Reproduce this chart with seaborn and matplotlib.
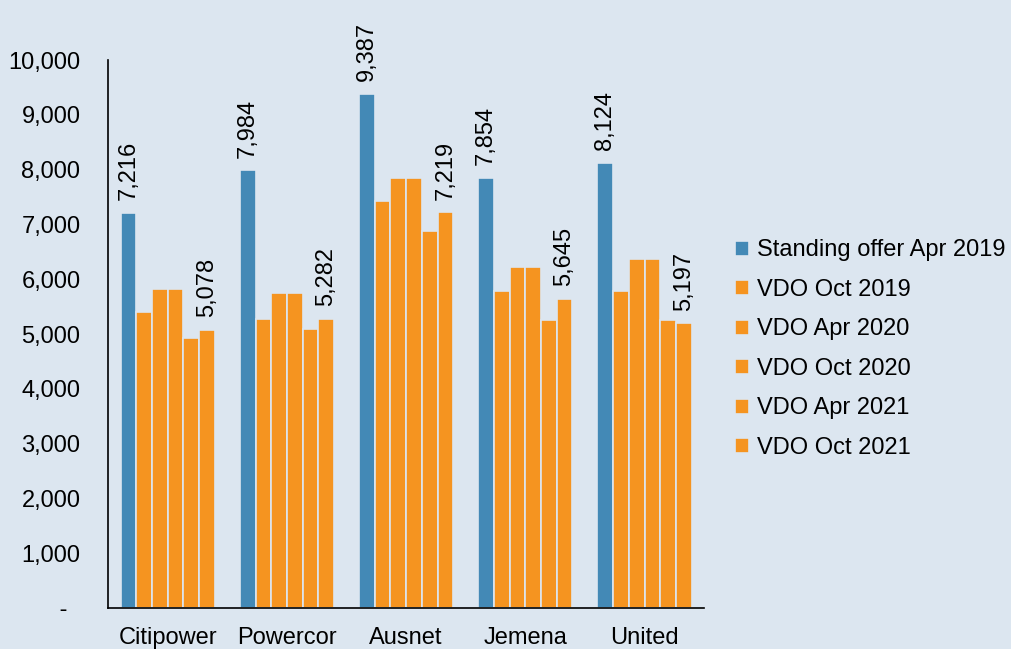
import pandas as pd
import matplotlib
matplotlib.use("Agg")
import matplotlib.pyplot as plt
import seaborn as sns
from matplotlib.ticker import FuncFormatter, FixedLocator

# chart data
distributors = ["Citipower", "Powercor", "Ausnet", "Jemena", "United"]
offers = ["Standing offer Apr 2019", "VDO Oct 2019", "VDO Apr 2020",
          "VDO Oct 2020", "VDO Apr 2021", "VDO Oct 2021"]
standing_apr_2019 = [7216, 7984, 9387, 7854, 8124]
vdo_oct_2019 = [5400, 5280, 7430, 5780, 5780]
vdo_apr_2020 = [5820, 5740, 7840, 6230, 6360]
vdo_oct_2020 = [5820, 5740, 7840, 6230, 6360]
vdo_apr_2021 = [4930, 5090, 6880, 5260, 5260]
vdo_oct_2021 = [5078, 5282, 7219, 5645, 5197]
y_ticks = list(range(0, 10001, 1000))

series = [standing_apr_2019, vdo_oct_2019, vdo_apr_2020,
          vdo_oct_2020, vdo_apr_2021, vdo_oct_2021]
rows = []
for name, vals in zip(offers, series):
    for dist, v in zip(distributors, vals):
        rows.append({"distributor": dist, "offer": name, "cost": v})
df = pd.DataFrame(rows)

bg = "#dce6f0"
blue = "#4389b6"
orange = "#f59420"
palette = [blue] + [orange] * 5

sns.set_style("white")
plt.rcParams["font.family"] = ["Liberation Sans", "DejaVu Sans"]
plt.rcParams["font.size"] = 17
plt.rcParams["text.color"] = "black"
plt.rcParams["xtick.color"] = "black"
plt.rcParams["ytick.color"] = "black"
plt.rcParams["xtick.labelcolor"] = "black"
plt.rcParams["ytick.labelcolor"] = "black"

fig = plt.figure(figsize=(10.11, 6.49), dpi=100, facecolor=bg)
ax = fig.add_axes([0.107, 0.0632, 0.5895, 0.8443])
ax.set_facecolor(bg)

sns.barplot(data=df, x="distributor", y="cost", hue="offer", order=distributors,
            hue_order=offers, palette=palette, width=0.79, edgecolor=bg,
            linewidth=1.2, saturation=1, ax=ax, legend=True)

# value labels on the standing offer and the latest VDO
for idx in (0, 5):
    ax.bar_label(ax.containers[idx], labels=[f"{v:,.0f}" for v in series[idx]],
                 rotation=90, padding=9, fontsize=17, color="black")

ax.set_ylim(0, 10000)
ax.set_xlim(-0.5, 4.5)
ax.yaxis.set_major_locator(FixedLocator(y_ticks))
ax.yaxis.set_major_formatter(FuncFormatter(lambda v, p: " -  " if v == 0 else f"{v:,.0f}"))
ax.set_xlabel("")
ax.set_ylabel("")

ax.xaxis.set_minor_locator(FixedLocator([i - 0.5 for i in range(len(distributors) + 1)]))
ax.tick_params(axis="x", which="major", length=0, pad=14, labelsize=17)
ax.tick_params(axis="x", which="minor", length=6, width=1.2, color="black", direction="out")
ax.tick_params(axis="y", length=5, width=1.2, color="black", direction="out", labelsize=17, pad=15)

sns.despine(ax=ax)
for side in ("left", "bottom"):
    ax.spines[side].set_color("black")
    ax.spines[side].set_linewidth(1.2)

handles, labels = ax.get_legend_handles_labels()
ax.get_legend().remove()
fig.legend(handles, labels, loc="center left", bbox_to_anchor=(0.727, 0.462),
           frameon=False, fontsize=17, handlelength=0.6, handleheight=0.6,
           handletextpad=0.35, labelspacing=0.74, borderpad=0, borderaxespad=0,
           labelcolor="black")

fig.savefig("out.png", dpi=100, facecolor=bg)
